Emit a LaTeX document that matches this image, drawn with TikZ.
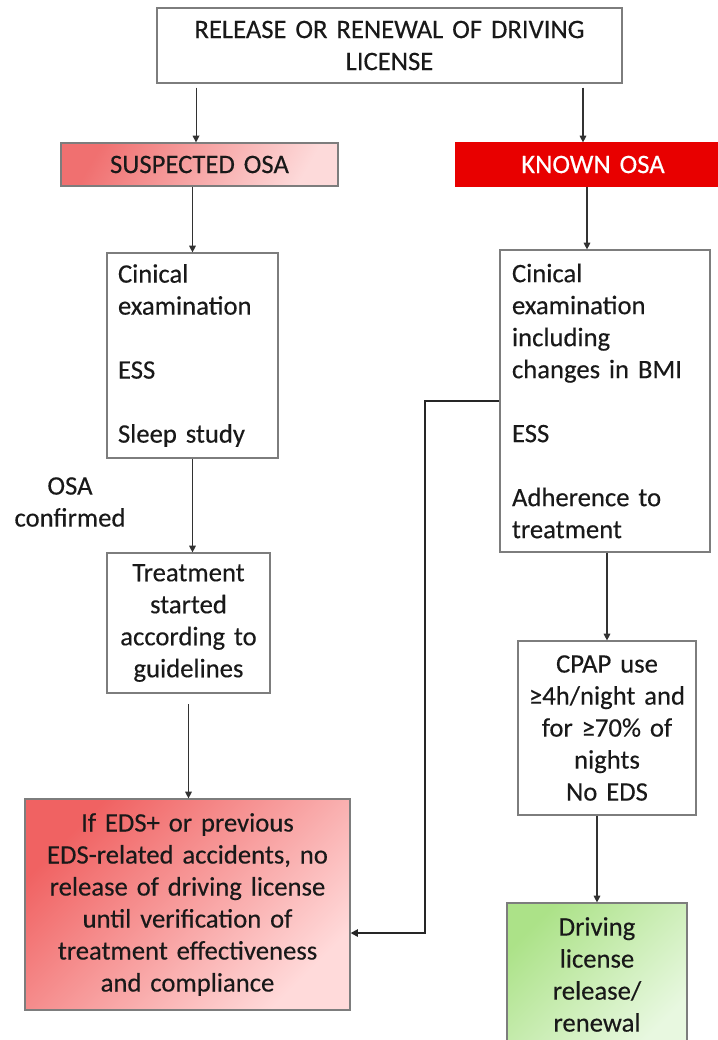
\documentclass[tikz,border=0pt]{standalone}
\usepackage{fontspec}
\setmainfont{Carlito}[WordSpace=0.78,FakeBold=0.3]
\usetikzlibrary{arrows.meta,calc}
\definecolor{txt}{RGB}{25,25,25}
\definecolor{boxline}{RGB}{125,125,125}
\definecolor{conn}{RGB}{50,50,50}
\definecolor{knownred}{RGB}{232,0,0}
\definecolor{suspA}{RGB}{240,112,112}
\definecolor{suspB}{RGB}{253,218,218}
\definecolor{blA}{RGB}{240,98,98}
\definecolor{blB}{RGB}{255,218,218}
\definecolor{grA}{RGB}{172,226,136}
\definecolor{grB}{RGB}{232,248,224}
\tikzset{
  every node/.style={font=\fontsize{20pt}{24pt}\selectfont, text=txt},
  box/.style={draw=boxline, line width=0.9pt, inner sep=0pt, align=center},
  lbox/.style={draw=boxline, line width=0.9pt, inner ysep=0pt, align=left},
  arr/.style={draw=conn, line width=0.8pt, -{Triangle[width=5pt,length=5pt]}},
  elbow/.style={draw=black!85, line width=1.3pt, -{Triangle[width=5.5pt,length=5.5pt]}},
}
\begin{document}
\begin{tikzpicture}[x=0.75pt,y=-0.75pt]
\useasboundingbox (0,0) rectangle (718,1040);
\clip (0,0) rectangle (718,1040);
\fill[white] (0,0) rectangle (718,1040);

\node[box, text width=348.75pt, minimum height=56.25pt] (top) at (389.5,45.5)
  {RELEASE OR RENEWAL OF DRIVING\\LICENSE};

\node[box, text width=207.75pt, minimum height=32.25pt,
  top color=suspA, bottom color=suspB, shading angle=60] (susp) at (199.5,164.5)
  {SUSPECTED OSA};

\node[box, draw=knownred, fill=knownred, text=white, text width=205.5pt, minimum height=32.25pt] (known) at (593,164.5)
  {KNOWN OSA};

\node[lbox, inner xsep=8.25pt, text width=111.75pt, minimum height=153.75pt] (cl) at (192.5,355.5)
  {Cinical\\examination\\[24pt]ESS\\[24pt]Sleep study};

\node[align=center, inner sep=0pt] (osa) at (70,502) {OSA\\confirmed};

\node[box, text width=122.25pt, minimum height=105pt] (treat) at (188.5,623)
  {Treatment\\started\\according to\\guidelines};

\node[box, text width=243.75pt, minimum height=158.25pt,
  top color=blA, bottom color=blB, shading angle=45] (bl) at (187.5,904.5)
  {If EDS+ or previous\\EDS-related accidents, no\\release of driving license\\until verification of\\treatment effectiveness\\and compliance};

\node[lbox, inner xsep=9pt, text width=139.5pt, minimum height=226.5pt] (cr) at (605,401)
  {Cinical\\examination\\including\\changes in BMI\\[24pt]ESS\\[24pt]Adherence to\\treatment};

\node[box, text width=133.5pt, minimum height=130.5pt] (cpap) at (607,728)
  {CPAP use\\≥4h/night and\\for ≥70\% of\\nights\\No EDS};

\node[box, text width=135pt, minimum height=107.25pt,
  top color=grA, bottom color=grB, shading angle=45] (green) at (597,974.5)
  {Driving\\license\\release/\\renewal};

% connectors
\coordinate (s1) at ([xshift=-2.6pt]susp.north);
\coordinate (k1) at ([xshift=-7.5pt]known.north);
\coordinate (k2) at ([xshift=-13.5pt]cr.north);
\coordinate (elb) at (425,0);

\draw[arr, shorten <=3pt] (s1 |- top.south) -- (s1);
\draw[arr, shorten <=3pt] (k1 |- top.south) -- (k1);
\draw[arr] (cl.north |- susp.south) -- (cl.north);
\draw[arr] (k2 |- known.south) -- (k2);
\draw[arr] (cl.south) -- (cl.south |- treat.north);
\draw[arr, shorten <=8pt] (treat.south) -- (treat.south |- bl.north);
\draw[arr] (cpap.north |- cr.south) -- (cpap.north);
\draw[arr] (green.north |- cpap.south) -- (green.north);
\draw[elbow] (cr.west) -- (cr.west -| elb) |- ([yshift=-21.4pt]bl.east);
\end{tikzpicture}
\end{document}
